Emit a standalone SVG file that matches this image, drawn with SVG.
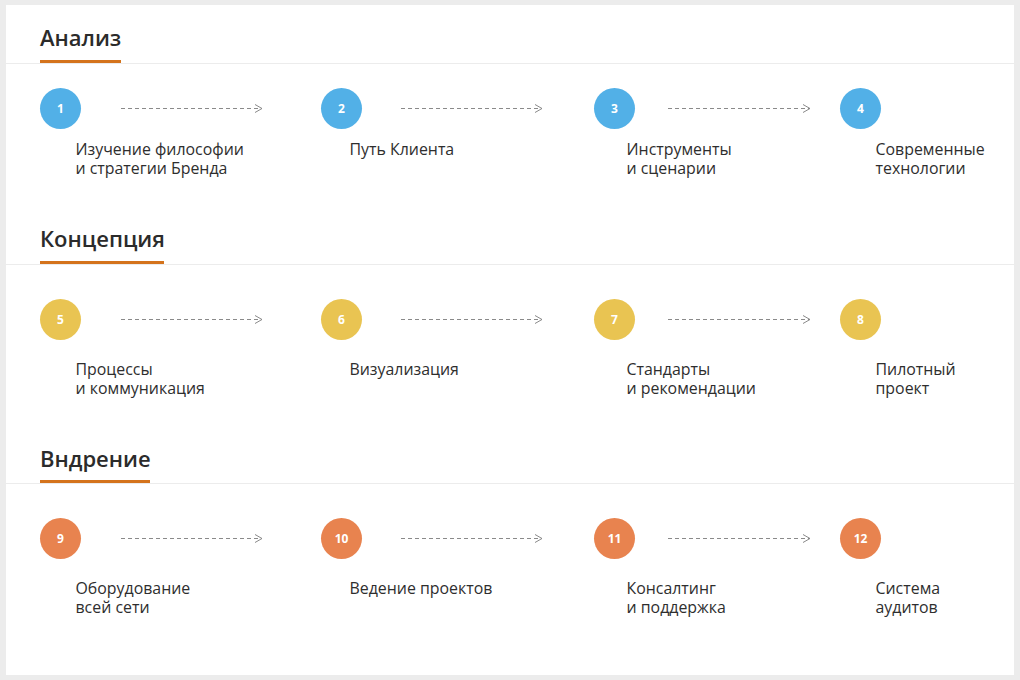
<svg xmlns="http://www.w3.org/2000/svg" width="1020" height="680" viewBox="0 0 1020 680">
  <defs>
    <marker id="chev" markerWidth="10" markerHeight="10" refX="8" refY="5" orient="auto" markerUnits="userSpaceOnUse">
      <path d="M1,1 L8,5 L1,9" fill="none" stroke="#8a8a8a" stroke-width="1"/>
    </marker>
    <style>
      .hdr { font-family: "Open Sans", "Liberation Sans", sans-serif; font-weight: 600; font-size: 22px; fill: #2b2b2b; }
      .ul { fill: #d4731c; }
      .sep { stroke: #ececec; stroke-width: 1; }
      .num { font-family: "Open Sans", "Liberation Sans", sans-serif; font-weight: 700; font-size: 12px; fill: #ffffff; text-anchor: middle; }
      .lbl { font-family: "Open Sans", "Liberation Sans", sans-serif; font-size: 15.9px; fill: #2e2e2e; }
      .blue { fill: #52b0e7; }
      .yel { fill: #e9c452; }
      .org { fill: #e8834f; }
      .arr { stroke: #8a8a8a; stroke-width: 1; stroke-dasharray: 4 3; fill: none; marker-end: url(#chev); }
    </style>
  </defs>

  <!-- page -->
  <rect x="0" y="0" width="1020" height="680" fill="#ececec"/>
  <rect x="6" y="5" width="1008" height="670" fill="#ffffff"/>

  <!-- section headers -->
  <g id="sec-analysis">
    <text class="hdr" x="40" y="46">Анализ</text>
    <line class="sep" x1="6" y1="63.5" x2="1014" y2="63.5"/>
    <rect class="ul" x="40" y="60" width="81" height="3"/>
  </g>
  <g id="sec-concept">
    <text class="hdr" x="40" y="247">Концепция</text>
    <line class="sep" x1="6" y1="264.5" x2="1014" y2="264.5"/>
    <rect class="ul" x="40" y="261" width="124" height="3"/>
  </g>
  <g id="sec-impl">
    <text class="hdr" x="40" y="467">Вндрение</text>
    <line class="sep" x1="6" y1="483.5" x2="1014" y2="483.5"/>
    <rect class="ul" x="40" y="480" width="110" height="3"/>
  </g>

  <!-- connectors -->
  <g id="connectors">
    <line class="arr" x1="121" y1="108.5" x2="262" y2="108.5"/>
    <line class="arr" x1="401" y1="108.5" x2="542" y2="108.5"/>
    <line class="arr" x1="668" y1="108.5" x2="810" y2="108.5"/>
    <line class="arr" x1="121" y1="319.5" x2="262" y2="319.5"/>
    <line class="arr" x1="401" y1="319.5" x2="542" y2="319.5"/>
    <line class="arr" x1="668" y1="319.5" x2="810" y2="319.5"/>
    <line class="arr" x1="121" y1="538.5" x2="262" y2="538.5"/>
    <line class="arr" x1="401" y1="538.5" x2="542" y2="538.5"/>
    <line class="arr" x1="668" y1="538.5" x2="810" y2="538.5"/>
  </g>

  <!-- row 1 -->
  <g id="step-1">
    <circle class="blue" cx="60.5" cy="108.5" r="20.5"/>
    <text class="num" x="60.5" y="113">1</text>
    <text class="lbl" x="75.5" y="154.5">Изучение философии</text>
    <text class="lbl" x="75.5" y="173.5">и стратегии Бренда</text>
  </g>
  <g id="step-2">
    <circle class="blue" cx="341.5" cy="108.5" r="20.5"/>
    <text class="num" x="341.5" y="113">2</text>
    <text class="lbl" x="349.5" y="154.5">Путь Клиента</text>
  </g>
  <g id="step-3">
    <circle class="blue" cx="614.5" cy="108.5" r="20.5"/>
    <text class="num" x="614.5" y="113">3</text>
    <text class="lbl" x="626.5" y="154.5">Инструменты</text>
    <text class="lbl" x="626.5" y="173.5">и сценарии</text>
  </g>
  <g id="step-4">
    <circle class="blue" cx="860.5" cy="108.5" r="20.5"/>
    <text class="num" x="860.5" y="113">4</text>
    <text class="lbl" x="875.5" y="154.5">Современные</text>
    <text class="lbl" x="875.5" y="173.5">технологии</text>
  </g>

  <!-- row 2 -->
  <g id="step-5">
    <circle class="yel" cx="60.5" cy="319.5" r="20.5"/>
    <text class="num" x="60.5" y="324">5</text>
    <text class="lbl" x="75.5" y="375">Процессы</text>
    <text class="lbl" x="75.5" y="394">и коммуникация</text>
  </g>
  <g id="step-6">
    <circle class="yel" cx="341.5" cy="319.5" r="20.5"/>
    <text class="num" x="341.5" y="324">6</text>
    <text class="lbl" x="349.5" y="375">Визуализация</text>
  </g>
  <g id="step-7">
    <circle class="yel" cx="614.5" cy="319.5" r="20.5"/>
    <text class="num" x="614.5" y="324">7</text>
    <text class="lbl" x="626.5" y="375">Стандарты</text>
    <text class="lbl" x="626.5" y="394">и рекомендации</text>
  </g>
  <g id="step-8">
    <circle class="yel" cx="860.5" cy="319.5" r="20.5"/>
    <text class="num" x="860.5" y="324">8</text>
    <text class="lbl" x="875.5" y="375">Пилотный</text>
    <text class="lbl" x="875.5" y="394">проект</text>
  </g>

  <!-- row 3 -->
  <g id="step-9">
    <circle class="org" cx="60.5" cy="538.5" r="20.5"/>
    <text class="num" x="60.5" y="543">9</text>
    <text class="lbl" x="75.5" y="594">Оборудование</text>
    <text class="lbl" x="75.5" y="613">всей сети</text>
  </g>
  <g id="step-10">
    <circle class="org" cx="341.5" cy="538.5" r="20.5"/>
    <text class="num" x="341.5" y="543">10</text>
    <text class="lbl" x="349.5" y="594">Ведение проектов</text>
  </g>
  <g id="step-11">
    <circle class="org" cx="614.5" cy="538.5" r="20.5"/>
    <text class="num" x="614.5" y="543">11</text>
    <text class="lbl" x="626.5" y="594">Консалтинг</text>
    <text class="lbl" x="626.5" y="613">и поддержка</text>
  </g>
  <g id="step-12">
    <circle class="org" cx="860.5" cy="538.5" r="20.5"/>
    <text class="num" x="860.5" y="543">12</text>
    <text class="lbl" x="875.5" y="594">Система</text>
    <text class="lbl" x="875.5" y="613">аудитов</text>
  </g>
</svg>
